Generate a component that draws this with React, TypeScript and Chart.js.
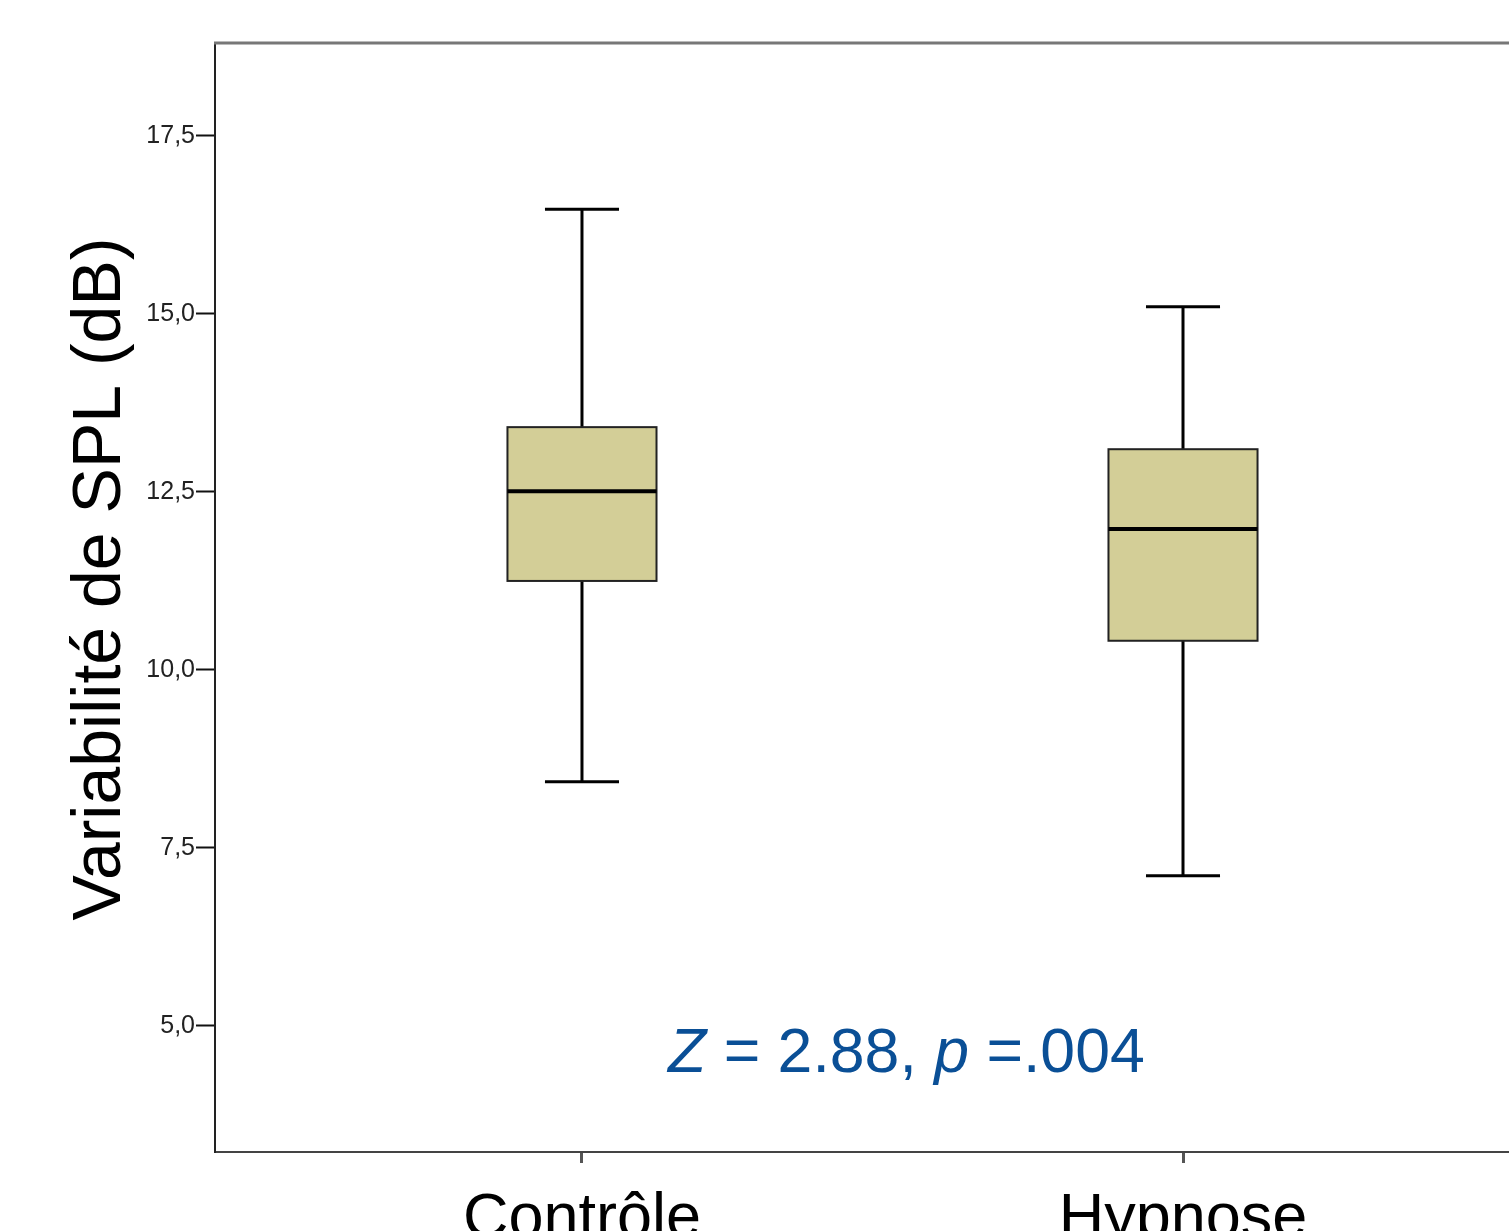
import React, { useEffect, useRef } from "react";
import { Chart, registerables } from "chart.js";

Chart.register(...registerables);

// ---- data ----
const categories = ["Contrôle", "Hypnose"];
const whiskerLow = [8.43, 7.11];
const q1Values = [11.25, 10.41];
const medianValues = [12.51, 11.98];
const q3Values = [13.41, 13.1];
const whiskerHigh = [16.47, 15.1];
const yTickValues = [5, 7.5, 10, 12.5, 15, 17.5];
const yTitle = "Variabilité de SPL (dB)";
const annotationParts: { text: string; italic: boolean }[] = [
  { text: "Z", italic: true },
  { text: " = 2.88, ", italic: false },
  { text: "p", italic: true },
  { text: " =.004", italic: false },
];

// ---- styles / geometry ----
const W = 1509;
const H = 1231;
const FONT = "'Liberation Sans', Arial, Helvetica, sans-serif";
const BOX_HALF = 0.124; // x-units
const CAP_HALF = 0.0616;
const BOX_FILL = "rgb(211,206,151)";
const X_MIN = -0.6106;
const X_MAX = 1.5424;
const Y_MIN = 3.23;
const Y_MAX = 18.805;

const boxPlugin = {
  id: "boxplotDraw",
  afterDatasetsDraw(chart: any) {
    const { ctx, scales } = chart;
    const x = scales.x;
    const y = scales.y;
    ctx.save();
    categories.forEach((_c, i) => {
      const cx = x.getPixelForValue(i);
      const l = x.getPixelForValue(i - BOX_HALF);
      const r = x.getPixelForValue(i + BOX_HALF);
      const cl = x.getPixelForValue(i - CAP_HALF);
      const cr = x.getPixelForValue(i + CAP_HALF);
      const yLo = y.getPixelForValue(whiskerLow[i]);
      const yQ1 = y.getPixelForValue(q1Values[i]);
      const yMed = y.getPixelForValue(medianValues[i]);
      const yQ3 = y.getPixelForValue(q3Values[i]);
      const yHi = y.getPixelForValue(whiskerHigh[i]);

      ctx.strokeStyle = "#000";
      ctx.lineWidth = 3;
      ctx.lineCap = "butt";
      // whiskers
      ctx.beginPath();
      ctx.moveTo(cx, yQ3);
      ctx.lineTo(cx, yHi);
      ctx.moveTo(cx, yQ1);
      ctx.lineTo(cx, yLo);
      ctx.moveTo(cl, yHi);
      ctx.lineTo(cr, yHi);
      ctx.moveTo(cl, yLo);
      ctx.lineTo(cr, yLo);
      ctx.stroke();

      // box
      ctx.fillStyle = BOX_FILL;
      ctx.fillRect(l, yQ3, r - l, yQ1 - yQ3);
      ctx.strokeStyle = "#222";
      ctx.lineWidth = 2;
      ctx.strokeRect(l, yQ3, r - l, yQ1 - yQ3);

      // median
      ctx.strokeStyle = "#000";
      ctx.lineWidth = 4;
      ctx.beginPath();
      ctx.moveTo(l, yMed);
      ctx.lineTo(r, yMed);
      ctx.stroke();
    });
    ctx.restore();
  },
  afterDraw(chart: any) {
    const { ctx, chartArea } = chart;
    ctx.save();
    // top frame line
    ctx.strokeStyle = "#777";
    ctx.lineWidth = 3;
    ctx.beginPath();
    ctx.moveTo(chartArea.left - 1, chartArea.top);
    ctx.lineTo(chartArea.right, chartArea.top);
    ctx.stroke();

    // y title
    ctx.save();
    ctx.translate(120, 579);
    ctx.rotate(-Math.PI / 2);
    ctx.font = `68px ${FONT}`;
    ctx.fillStyle = "#000";
    ctx.textAlign = "center";
    ctx.textBaseline = "alphabetic";
    ctx.fillText(yTitle, 0, 0);
    ctx.restore();

    // annotation
    let ax = 668;
    const ay = 1072;
    ctx.fillStyle = "#0a4f96";
    ctx.textAlign = "left";
    ctx.textBaseline = "alphabetic";
    annotationParts.forEach((p) => {
      ctx.font = `${p.italic ? "italic " : ""}62.6px ${FONT}`;
      ctx.fillText(p.text, ax, ay);
      ax += ctx.measureText(p.text).width;
    });
    ctx.restore();
  },
};

export default function App() {
  const ref = useRef<HTMLCanvasElement | null>(null);
  useEffect(() => {
    if (!ref.current) return;
    const chart = new Chart(ref.current, {
      type: "scatter",
      data: {
        datasets: [
          {
            data: medianValues.map((v, i) => ({ x: i, y: v })),
            pointRadius: 0,
            showLine: false,
          },
        ],
      },
      options: {
        animation: false,
        responsive: false,
        events: [],
        layout: { padding: { top: 43, left: 0, right: 0, bottom: 0 } },
        plugins: {
          legend: { display: false },
          tooltip: { enabled: false },
        },
        scales: {
          x: {
            type: "linear",
            min: X_MIN,
            max: X_MAX,
            afterBuildTicks: (s: any) => {
              s.ticks = categories.map((_c, i) => ({ value: i }));
            },
            afterFit: (s: any) => {
              s.height = H - 1152;
            },
            ticks: {
              callback: (v: any) => categories[Math.round(Number(v))] ?? "",
              font: { family: FONT, size: 63 },
              color: "#000",
              padding: 19,
              maxRotation: 0,
              autoSkip: false,
            },
            grid: {
              drawOnChartArea: false,
              drawTicks: true,
              tickLength: 11,
              tickColor: "#555",
              tickWidth: 3,
            },
            border: { display: true, color: "#444", width: 2 },
          },
          y: {
            type: "linear",
            min: Y_MIN,
            max: Y_MAX,
            afterBuildTicks: (s: any) => {
              s.ticks = yTickValues.map((v) => ({ value: v }));
            },
            afterFit: (s: any) => {
              s.width = 215;
            },
            ticks: {
              callback: (v: any) => Number(v).toFixed(1).replace(".", ","),
              font: { family: FONT, size: 25 },
              color: "#222",
              padding: 1,
            },
            grid: {
              drawOnChartArea: false,
              drawTicks: true,
              tickLength: 19,
              tickColor: "#111",
              tickWidth: 2,
            },
            border: { display: true, color: "#222", width: 2 },
          },
        },
      },
      plugins: [boxPlugin],
    });
    return () => chart.destroy();
  }, []);
  return (
    <div style={{ position: "fixed", left: 0, top: 0, width: W, height: H, background: "#fff" }}>
      <canvas ref={ref} width={W} height={H} style={{ display: "block" }} />
    </div>
  );
}
